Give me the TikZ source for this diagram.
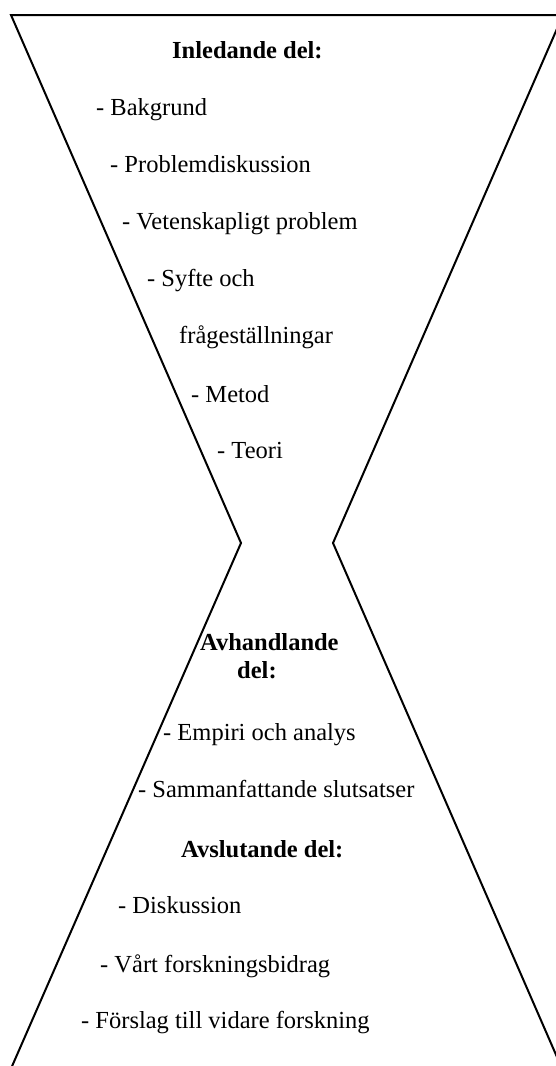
\documentclass[tikz,border=0pt]{standalone}
\usepackage{fontspec}
\setmainfont{Liberation Serif}
\begin{document}
\begin{tikzpicture}[x=1pt,y=-1pt,
  txt/.style={anchor=base west,inner sep=0pt,font=\fontsize{24.5}{29}\selectfont},
  head/.style={txt,font=\fontsize{24.5}{29}\selectfont\bfseries},
  outline/.style={line width=2pt,line join=miter}]
\useasboundingbox (0,0) rectangle (556,1066);
\begin{scope}
\clip (0,0) rectangle (556,1066);
\coordinate (tl) at (11,15);
\coordinate (tr) at (563,15);
\coordinate (wl) at (241,543);
\coordinate (wr) at (333,543);
\coordinate (bl) at (6,1080);
\coordinate (br) at (567,1080);
\draw[outline] (tr) -- (tl) -- (wl) -- (bl);
\draw[outline] (tr) -- (wr) -- (br);
\end{scope}
\node[head] (h1) at (172,58) {Inledande del:};
\node[txt] (a1) at (96,115) {- Bakgrund};
\node[txt] (a2) at (110,172) {- Problemdiskussion};
\node[txt] (a3) at (122,229) {- Vetenskapligt problem};
\node[txt] (a4) at (147,286) {- Syfte och};
\node[txt] (a5) at (179,343) {frågeställningar};
\node[txt] (a6) at (191,402) {- Metod};
\node[txt] (a7) at (217,458) {- Teori};
\node[head] (h2) at (200,650) {Avhandlande};
\node[head] (h2b) at (237,678) {del:};
\node[txt] (b1) at (163,740) {- Empiri och analys};
\node[txt] (b2) at (138,797) {- Sammanfattande slutsatser};
\node[head] (h3) at (181,857) {Avslutande del:};
\node[txt] (c1) at (118,913) {- Diskussion};
\node[txt] (c2) at (100,972) {- Vårt forskningsbidrag};
\node[txt] (c3) at (81,1028) {- Förslag till vidare forskning};
\end{tikzpicture}
\end{document}
